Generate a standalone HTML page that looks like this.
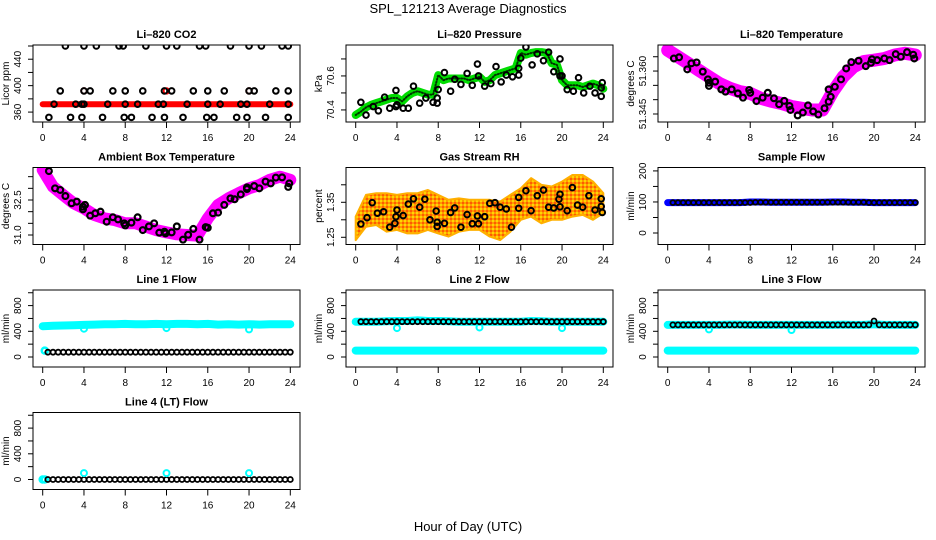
<!DOCTYPE html>
<html><head><meta charset="utf-8"><style>
html,body{margin:0;padding:0;background:#fff;}
svg{display:block;font-family:"Liberation Sans",Arial,sans-serif;}
</style></head><body>
<svg id="chart" width="936" height="540" viewBox="0 0 936 540" xmlns="http://www.w3.org/2000/svg">
<defs>
<pattern id="rhpat" width="4" height="4" patternUnits="userSpaceOnUse">
<rect width="4" height="4" fill="#ff9a00"/>
<circle cx="1" cy="1" r="0.9" fill="#ffff00"/>
<circle cx="3" cy="3" r="0.9" fill="#ff3000"/>
</pattern>
</defs>
<text x="468" y="13" text-anchor="middle" font-size="13">SPL_121213  Average Diagnostics</text>
<text x="468" y="531" text-anchor="middle" font-size="13">Hour of Day (UTC)</text>
</svg>
<script>
// ---------- data ----------
const xTicks=[0,4,8,12,16,20,24];
// CO2
const co2RedHours=[0,24];
const co2RedVals=[372,372];
const co2RedDotHours=[4,12,20];
const co2RedDotVals=[392,392,392];
const co2BlkHours=[2.2,4,5.2,7.4,7.8,10,12,13,15.2,15.8,18.2,20,21.2,23.2,23.8,
 1.7,4,4.6,6.8,8,9.7,11.8,12.5,14.6,16,17.6,20,20.5,22.6,23.8,
 1.1,3.2,3.8,4,6.3,8,9.2,11.2,11.7,14,16,17.2,19.2,19.8,22,23.8,
 0.6,2.7,3.8,5.8,7.9,8.6,10.6,11.8,13.6,15.9,16.6,18.8,19.8,21.6,23.8];
const co2BlkVals=[460,460,460,460,460,460,460,460,460,460,460,460,460,460,460,
 392,392,392,392,392,392,392,392,392,392,392,392,392,392,392,
 372,372,372,372,372,372,372,372,372,372,372,372,372,372,372,372,
 352,352,352,352,352,352,352,352,352,352,352,352,352,352,352];
// Pressure (half-hourly trend)
const presTrend=[70.37,70.39,70.415,70.43,70.44,70.45,70.46,70.47,70.47,70.45,70.48,70.50,70.51,70.50,70.49,70.49,
 70.605,70.575,70.585,70.585,70.585,70.585,70.575,70.585,70.595,70.565,70.575,70.605,70.615,70.625,70.635,70.645,
 70.735,70.725,70.735,70.74,70.74,70.735,70.675,70.665,70.575,70.545,70.545,70.545,70.535,70.545,70.555,70.545,70.525];
const presBlkHours=[0.5,1,1.7,2.2,2.8,3.3,3.9,3.9,4,4.6,5.1,5.6,6.2,6.8,7.5,7.9,7.9,8,8.6,9.2,9.6,10.2,10.8,11.3,11.8,11.9,12.5,13.1,13.6,14.1,14.6,15.2,15.8,15.8,16,16.5,17.1,17.6,18.2,18.7,19.2,19.8,19.8,20,20.5,21.1,21.6,22.1,22.7,23.2,23.8,23.9,23.8];
const presBlkVals=[70.445,70.37,70.42,70.395,70.475,70.41,70.42,70.515,70.43,70.41,70.41,70.54,70.44,70.47,70.445,70.44,70.47,70.52,70.62,70.51,70.58,70.55,70.615,70.545,70.67,70.6,70.54,70.555,70.655,70.565,70.605,70.595,70.605,70.645,70.705,70.77,70.665,70.73,70.69,70.74,70.625,70.7,70.6,70.6,70.52,70.51,70.59,70.5,70.54,70.5,70.48,70.56,70.53];
// Li-820 temperature (hourly trend)
const ltTrend=[51.3673,51.365,51.3627,51.3603,51.358,51.3557,51.354,51.3528,51.3522,51.3505,51.3495,51.3487,51.3476,51.347,51.3464,51.3464,51.3528,51.358,51.3615,51.3633,51.3638,51.3644,51.3656,51.3662,51.3656];
const ltBlkHours=[0.6,1.1,1.9,2.3,2.8,3.4,3.9,4,4,4.6,5.2,5.6,6.2,6.8,7.3,7.9,8,8.6,9.2,9.7,10.3,10.8,11.3,11.8,11.9,12.6,13.1,13.6,14.1,14.6,15.2,15.6,15.8,15.6,16.2,16.8,17.3,17.8,18.5,19.2,19.7,19.8,20.3,21,21.5,22.1,22.6,23.2,23.8,23.9];
const ltBlkVals=[51.3644,51.3648,51.3606,51.3627,51.3630,51.3598,51.3571,51.3559,51.3548,51.3563,51.3536,51.3528,51.3536,51.3522,51.3507,51.3534,51.3524,51.3495,51.3507,51.3524,51.3505,51.3484,51.3496,51.3478,51.3464,51.3445,51.3455,51.3480,51.3459,51.3448,51.3470,51.3493,51.3510,51.3536,51.3545,51.3571,51.3609,51.3631,51.3636,51.3617,51.3629,51.3641,51.3638,51.3644,51.3638,51.3659,51.3650,51.3666,51.3657,51.3644];
// Ambient box temperature (hourly trend)
const abTrend=[33.79,33.07,32.71,32.36,32.14,31.86,31.71,31.64,31.5,31.5,31.36,31.21,31.11,31.03,31.0,30.97,31.71,32.29,32.57,32.79,33.0,33.14,33.36,33.5,33.36];
const abBlkHours=[0.6,1.2,1.7,2.2,2.8,3.3,3.9,3.9,4.1,4.6,5.1,5.6,6.2,6.8,7.3,7.9,8,8.6,9.2,9.7,10.3,10.8,11.3,11.8,11.9,12.5,13,13.6,14.1,14.6,15.2,15.8,16,16.5,17,17.6,18.2,18.6,19.2,19.8,19.8,20.5,21,21.6,22.1,22.6,23.2,23.8,23.9];
const abBlkVals=[33.74,33.0,32.93,32.67,32.36,32.43,32.21,32.1,32.29,31.83,31.93,32.0,31.57,31.76,31.67,31.5,31.41,31.53,31.76,31.21,31.37,31.5,31.1,31.14,31.07,31.11,31.37,30.8,31.01,31.26,30.8,31.34,31.31,31.93,31.96,32.29,32.57,32.53,32.74,33.04,32.97,33.1,33.0,33.29,33.21,33.46,33.47,33.06,33.21];
// Gas stream RH (hourly cloud bounds)
const rhUpper=[1.309,1.371,1.376,1.376,1.371,1.376,1.376,1.385,1.371,1.357,1.361,1.357,1.357,1.357,1.352,1.371,1.390,1.419,1.400,1.395,1.409,1.428,1.428,1.409,1.376];
const rhLower=[1.242,1.280,1.285,1.266,1.271,1.261,1.261,1.271,1.261,1.252,1.266,1.271,1.271,1.252,1.242,1.266,1.300,1.309,1.290,1.300,1.300,1.309,1.314,1.300,1.319];
const rhBlkHours=[0.5,1.1,1.6,2.1,2.7,3.3,3.8,3.9,4,4.6,5.1,5.6,6.2,6.7,7.2,7.8,7.9,7.9,8.6,9.2,9.6,10.2,10.8,11.3,11.8,11.9,12.5,13,13.5,14,14.6,15.1,15.8,15.8,16.5,17,17.6,18.2,18.7,19.2,19.7,19.8,19.8,20.5,21,21.5,22,22.6,23.2,23.8,23.8,23.9];
const rhBlkVals=[1.288,1.306,1.349,1.319,1.323,1.279,1.290,1.309,1.328,1.312,1.345,1.360,1.336,1.359,1.300,1.325,1.293,1.281,1.290,1.321,1.334,1.279,1.315,1.289,1.311,1.289,1.309,1.347,1.349,1.336,1.331,1.279,1.364,1.333,1.383,1.326,1.369,1.385,1.336,1.334,1.359,1.373,1.337,1.326,1.392,1.342,1.336,1.369,1.328,1.360,1.338,1.321];
// Sample flow
const sfBlue=[98,98,98,98,98,98,98,98,100,100,99,99,99,99,99,99,100,100,99,99,98,98,98,98,98];
const sfBlk=[98,98,98,98,98,98,98,98,98,98,98,98,98,98,98,98,99,99,99,99,99,99,99,99,99,99,99,99,99,99,99,99,99,99,99,99,99,99,98,98,98,98,98,98,98,98,98,98];
// Line 1 flow
const l1Cyan=[480,485,490,495,500,505,510,510,515,510,510,515,510,515,515,510,515,505,510,505,510,505,510,510,510];
const l1DipHours=[4,12,20];
const l1DipVals=[440,450,430];
const l1Blk=[75,75,75,75,75,75,75,75,75,75,75,75,75,75,75,75,75,75,75,75,75,75,75,75,75,75,75,75,75,75,75,75,75,75,75,75,75,75,75,75,75,75,75,75,75,75,75,75];
// Line 2 flow
const l2Cyan=[550,550,550,555,560,560,570,560,560,555,550,550,550,550,550,550,550,560,555,550,550,550,550,550,550];
const l2Low=[100,100,100,100,100,100,100,100,100,100,100,100,100,100,100,100,100,100,100,100,100,100,100,100,100];
const l2DipHours=[4,12,20];
const l2DipVals=[450,460,450];
const l2Blk=[550,550,550,550,550,550,550,550,550,550,550,550,550,550,550,550,550,550,550,550,550,550,550,550,550,550,550,550,550,550,550,550,550,550,550,550,550,550,550,550,550,550,550,550,550,550,550,550];
// Line 3 flow
const l3Cyan=[500,500,500,500,500,500,505,505,500,500,500,500,500,500,500,500,500,505,500,500,510,500,500,500,500];
const l3Low=[100,100,100,100,100,100,100,100,100,100,100,100,100,100,100,100,100,100,100,100,100,100,100,100,100];
const l3DipHours=[4,12];
const l3DipVals=[430,420];
const l3Blk=[500,500,500,500,500,500,500,500,500,500,500,500,500,500,500,500,500,500,500,500,500,500,500,500,500,500,500,500,500,500,500,500,500,500,500,500,500,500,500,560,500,500,500,500,500,500,500,500];
// Line 4 flow
const l4DipHours=[4,12,20];
const l4DipVals=[100,100,100];
const l4Blk=[0,0,0,0,0,0,0,0,0,0,0,0,0,0,0,0,0,0,0,0,0,0,0,0,0,0,0,0,0,0,0,0,0,0,0,0,0,0,0,0,0,0,0,0,0,0,0,0];

// ---------- drawing ----------
const NS='http://www.w3.org/2000/svg';
const svg=document.getElementById('chart');
function el(tag,attrs,parent){const e=document.createElementNS(NS,tag);for(const k in attrs)e.setAttribute(k,attrs[k]);(parent||svg).appendChild(e);return e;}

function panel(col,row,name,title,ylab,dom,ticks,labels){
  const L=[33,346,658][col], T=45+row*122.5, W=267, H=77;
  const g=el('g',{});
  
  
  const sx=h=>L+9.7+h/24*247.6;
  const sy=v=>T+H-(v-dom[0])/(dom[1]-dom[0])*H;
  const t=el('text',{x:L+W/2,y:T-7,'text-anchor':'middle','font-size':11,'font-weight':'bold'},g);
  t.textContent=title;
  
  
  xTicks.forEach(h=>{
    el('line',{x1:sx(h),x2:sx(h),y1:T+H,y2:T+H+6,stroke:'#000','stroke-width':1},g);
    const lb=el('text',{x:sx(h),y:T+H+19,'text-anchor':'middle','font-size':10},g);
    lb.textContent=h;
    
    
  });
  ticks.forEach(v=>{
    el('line',{x1:L-5,x2:L,y1:sy(v),y2:sy(v),stroke:'#000','stroke-width':1},g);
  });
  labels.forEach(([v,s])=>{
    const yy=sy(v);
    const lb=el('text',{x:L-12,y:yy,'text-anchor':'middle','font-size':10,transform:`rotate(-90 ${L-12} ${yy})`},g);
    lb.textContent=s;
    
    
  });
  const yl=el('text',{x:L-24,y:T+H/2,'text-anchor':'middle','font-size':10,transform:`rotate(-90 ${L-24} ${T+H/2})`},g);
  yl.textContent=ylab;
  
  
  const clip=el('clipPath',{id:'clip-'+name},g);
  el('rect',{x:L,y:T,width:W,height:H},clip);
  const plot=el('g',{'clip-path':`url(#clip-${name})`},g);
  
  
  const box=el('rect',{x:L,y:T,width:W,height:H,fill:'none',stroke:'#000','stroke-width':1},g);
  
  
  return {plot,sx,sy};
}
function band(p,hours,vals,color,w,name){
  const d=hours.map((h,i)=>(i?'L':'M')+p.sx(h).toFixed(1)+' '+p.sy(vals[i]).toFixed(1)).join(' ');
  const e=el('path',{d:d,fill:'none',stroke:color,'stroke-width':w,'stroke-linejoin':'round','stroke-linecap':'round'},p.plot);
  
  
  return e;
}
function pts(p,hours,vals,color,r,sw,name){
  hours.forEach((h,i)=>{
    const c=el('circle',{cx:p.sx(h),cy:p.sy(vals[i]),r:r,fill:'none',stroke:color,'stroke-width':sw},p.plot);
    
    
  });
}
const hourly=Array.from({length:25},(_,i)=>i);
const halfHourly=Array.from({length:49},(_,i)=>i*0.5);
const blkHalf=Array.from({length:48},(_,i)=>0.5+i*0.5);

// CO2
let p=panel(0,0,'co2-panel','Li\u2013820 CO2','Licor ppm',[345,461.5],[360,380,400,420,440,460],[[360,'360'],[400,'400'],[440,'440']]);
band(p,co2RedHours,co2RedVals,'#ff0000',6,'co2-red-band');
pts(p,co2RedDotHours,co2RedDotVals,'#ff0000',2.8,1.8,'co2-red-point');
pts(p,co2BlkHours,co2BlkVals,'#000',2.8,2,'co2-black-point');
// Pressure
p=panel(1,0,'pressure-panel','Li\u2013820 Pressure','kPa',[70.329,70.782],[70.4,70.5,70.6,70.7],[[70.4,'70.4'],[70.6,'70.6']]);
band(p,halfHourly,presTrend,'#00dd00',8,'pressure-green-band');
const tx=band(p,halfHourly,presTrend,'#003300',2,'pressure-green-texture');tx.setAttribute('stroke-dasharray','1 2');
pts(p,presBlkHours,presBlkVals,'#000',2.8,2,'pressure-black-point');
// Li-820 Temperature
p=panel(2,0,'li820-temp-panel','Li\u2013820 Temperature','degrees C',[51.3422,51.3691],[51.345,51.35,51.355,51.36,51.365],[[51.345,'51.345'],[51.36,'51.360']]);
band(p,hourly,ltTrend,'#ff00ff',13,'li820-temp-band');
pts(p,ltBlkHours,ltBlkVals,'#000',2.9,2.2,'li820-temp-black-point');
// Ambient
p=panel(0,1,'ambient-temp-panel','Ambient Box Temperature','degrees C',[30.593,33.893],[31,31.5,32,32.5,33,33.5],[[31,'31.0'],[32.5,'32.5']]);
band(p,hourly,abTrend,'#ff00ff',12,'ambient-temp-band');
pts(p,abBlkHours,abBlkVals,'#000',2.9,2.2,'ambient-temp-black-point');
// RH
p=panel(1,1,'rh-panel','Gas Stream RH','percent',[1.2294,1.4494],[1.25,1.3,1.35,1.4],[[1.25,'1.25'],[1.35,'1.35']]);
{
  const up=hourly.map((h,i)=>p.sx(h).toFixed(1)+','+p.sy(rhUpper[i]).toFixed(1));
  const lo=hourly.map((h,i)=>p.sx(h).toFixed(1)+','+p.sy(rhLower[i]).toFixed(1)).reverse();
  const poly=el('polygon',{points:up.concat(lo).join(' '),fill:'url(#rhpat)',stroke:'#ffb000','stroke-width':2,'stroke-linejoin':'round'},p.plot);
  
  
}
pts(p,rhBlkHours,rhBlkVals,'#000',2.8,2,'rh-black-point');
// Sample flow
p=panel(2,1,'sample-flow-panel','Sample Flow','ml/min',[-37,211],[0,50,100,150,200],[[0,'0'],[100,'100'],[200,'200']]);
band(p,hourly,sfBlue,'#0000ff',7,'sample-flow-blue-band');
pts(p,blkHalf,sfBlk,'#000',2.4,1.8,'sample-flow-black-point');
const fDom=[-155.6,1042.8], fTicks=[0,200,400,600,800,1000], fLab=[[0,'0'],[400,'400'],[800,'800']];
// Line 1
p=panel(0,2,'line1-flow-panel','Line 1 Flow','ml/min',fDom,fTicks,fLab);
band(p,hourly,l1Cyan,'#00ffff',8,'line1-cyan-band');
pts(p,l1DipHours,l1DipVals,'#00ffff',3,2,'line1-cyan-dip');
pts(p,[0.2],[100],'#00ffff',3,2.5,'line1-cyan-low');
pts(p,blkHalf,l1Blk,'#000',2.5,1.8,'line1-black-point');
// Line 2
p=panel(1,2,'line2-flow-panel','Line 2 Flow','ml/min',fDom,fTicks,fLab);
band(p,hourly,l2Cyan,'#00ffff',8,'line2-cyan-band');
band(p,hourly,l2Low,'#00ffff',8,'line2-cyan-low-band');
pts(p,l2DipHours,l2DipVals,'#00ffff',3,2,'line2-cyan-dip');
pts(p,blkHalf,l2Blk,'#000',2.5,1.8,'line2-black-point');
// Line 3
p=panel(2,2,'line3-flow-panel','Line 3 Flow','ml/min',fDom,fTicks,fLab);
band(p,hourly,l3Cyan,'#00ffff',8,'line3-cyan-band');
band(p,hourly,l3Low,'#00ffff',8,'line3-cyan-low-band');
pts(p,l3DipHours,l3DipVals,'#00ffff',3,2,'line3-cyan-dip');
pts(p,blkHalf,l3Blk,'#000',2.5,1.8,'line3-black-point');
// Line 4
p=panel(0,3,'line4-flow-panel','Line 4 (LT) Flow','ml/min',fDom,fTicks,fLab);
pts(p,[0,0.2],[0,0],'#00ffff',3,2.5,'line4-cyan-start');
pts(p,blkHalf,l4Blk,'#000',2.5,1.8,'line4-black-point');
pts(p,l4DipHours,l4DipVals,'#00ffff',3,2,'line4-cyan-dip');
</script>
</body></html>
